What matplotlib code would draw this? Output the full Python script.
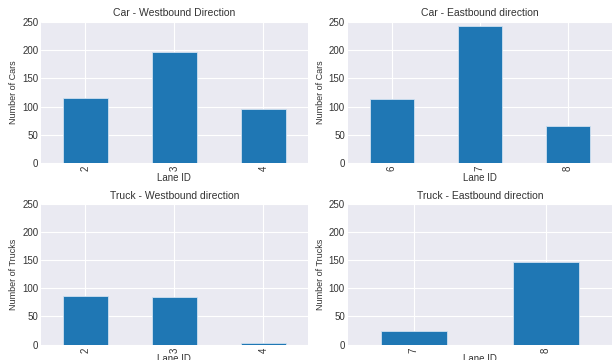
import matplotlib.pyplot as plt

# lane ids and counts
car_west_lanes = ['2', '3', '4']
car_west_counts = [116, 197, 96]
car_east_lanes = ['6', '7', '8']
car_east_counts = [113, 243, 66]
truck_west_lanes = ['2', '3', '4']
truck_west_counts = [86, 84, 2]
truck_east_lanes = ['7', '8']
truck_east_counts = [24, 147]

titles = ['Car - Westbound Direction', 'Car - Eastbound direction',
          'Truck - Westbound direction', 'Truck - Eastbound direction']
ylabels = ['Number of Cars', 'Number of Cars', 'Number of Trucks', 'Number of Trucks']

plt.style.use('seaborn-v0_8-darkgrid')
plt.rcParams['font.family'] = ['Liberation Sans', 'DejaVu Sans']

fig = plt.figure(figsize=(6.12, 3.6), dpi=100, facecolor='white')

# axes boxes in figure fraction
boxes = [
    [0.067, 0.547, 0.436, 0.392],
    [0.568, 0.547, 0.432, 0.392],
    [0.067, 0.043, 0.436, 0.390],
    [0.568, 0.043, 0.432, 0.390],
]
data = [
    (car_west_lanes, car_west_counts),
    (car_east_lanes, car_east_counts),
    (truck_west_lanes, truck_west_counts),
    (truck_east_lanes, truck_east_counts),
]

for box, (lanes, counts), title, ylab in zip(boxes, data, titles, ylabels):
    ax = fig.add_axes(box)
    pos = list(range(len(lanes)))
    ax.bar(pos, counts, width=0.5, color='#1f77b4', edgecolor='#cfe0f0', linewidth=0.6, zorder=2)
    ax.set_xlim(-0.5, len(lanes) - 0.5)
    ax.set_ylim(0, 250)
    ax.set_yticks([0, 50, 100, 150, 200, 250])
    ax.set_xticks(pos)
    ax.set_xticklabels(lanes, rotation=90)
    ax.tick_params(axis='both', labelsize=7, colors='#333333', pad=2)
    ax.set_title(title, fontsize=7.5, color='#333333', pad=4)
    ax.set_ylabel(ylab, fontsize=6.5, color='#333333', labelpad=3)
    ax.set_xlabel('Lane ID', fontsize=7, color='#333333', labelpad=1)
    ax.grid(True, color='white', linewidth=0.8)

fig.savefig('out.png', dpi=100, facecolor='white')
